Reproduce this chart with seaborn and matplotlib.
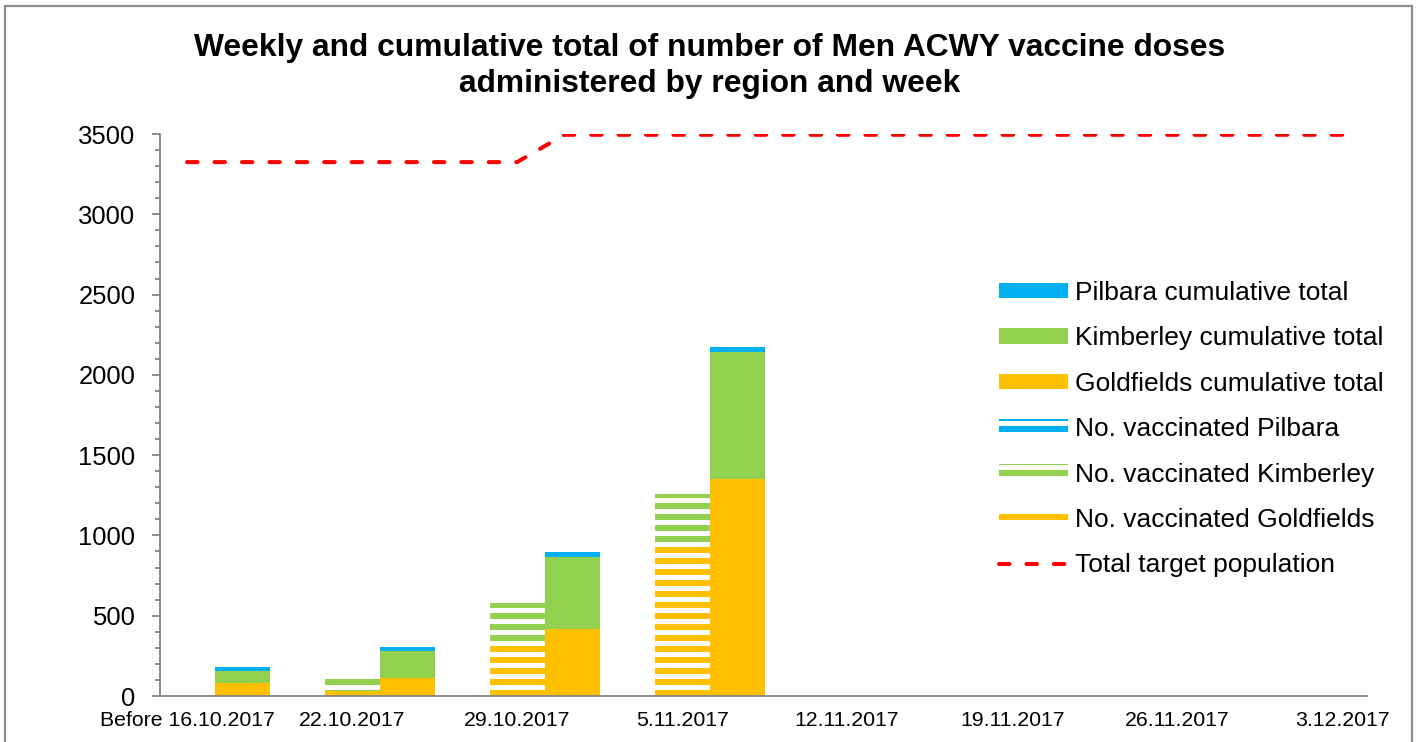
import numpy as np
import pandas as pd
import matplotlib
matplotlib.use("Agg")
import matplotlib.pyplot as plt
from matplotlib.patches import Patch, Rectangle
from matplotlib.lines import Line2D
from matplotlib.ticker import MultipleLocator
import seaborn as sns

# data
weeks = ['Before 16.10.2017', '22.10.2017', '29.10.2017', '5.11.2017',
         '12.11.2017', '19.11.2017', '26.11.2017', '3.12.2017']
week_goldfields = [0, 32, 311, 930, 0, 0, 0, 0]
week_kimberley = [0, 84, 270, 330, 0, 0, 0, 0]
week_pilbara = [0, 0, 0, 0, 0, 0, 0, 0]
cum_goldfields = [83, 114, 417, 1350, 0, 0, 0, 0]
cum_kimberley = [75, 168, 450, 793, 0, 0, 0, 0]
cum_pilbara = [25, 23, 28, 28, 0, 0, 0, 0]
target_dates = ['2017-10-15', '2017-10-29', '2017-10-31', '2017-12-03']
target_pop = [3325, 3325, 3495, 3495]

col_p = '#00B0F0'
col_k = '#92D050'
col_g = '#FFC000'

sns.set_theme(style='white')
plt.rcParams['font.family'] = ['Liberation Sans', 'DejaVu Sans']
plt.rcParams['hatch.linewidth'] = 2.7
plt.rcParams['text.color'] = 'black'

DPI = 132
fig = plt.figure(figsize=(1416 / DPI, 742 / DPI), dpi=DPI)
ax = fig.add_axes([160 / 1416, 46 / 742, (1367 - 160) / 1416, (696 - 134) / 742])

x = np.arange(len(weeks))
w = 1 / 3

# weekly (striped) bars
b = np.zeros(len(weeks))
for vals, c in [(week_goldfields, col_g), (week_kimberley, col_k), (week_pilbara, col_p)]:
    ax.bar(x, vals, width=w, bottom=b, color=c, edgecolor='white', lw=0, hatch='--')
    b = b + np.array(vals)

# cumulative bars
b = np.zeros(len(weeks))
for vals, c in [(cum_goldfields, col_g), (cum_kimberley, col_k), (cum_pilbara, col_p)]:
    ax.bar(x + w, vals, width=w, bottom=b, color=c, lw=0)
    b = b + np.array(vals)

# target population line
td = pd.to_datetime(target_dates)
tx = (td - td[0]).days / 7
sns.lineplot(x=tx, y=target_pop, ax=ax, color='#FF0000', lw=2.2,
             linestyle=(0, (2.6, 4.2)), dash_capstyle='round', legend=False)

ax.set_xlim(-0.164, 7.15)
ax.set_ylim(0, 3500)
ax.set_xticks(x)
ax.set_xticklabels(weeks)
ax.set_yticks(np.arange(0, 3501, 500))
ax.yaxis.set_minor_locator(MultipleLocator(100))
ax.set_xlabel('')
ax.set_ylabel('')

grey = '#868686'
for s in ['top', 'right']:
    ax.spines[s].set_visible(False)
for s in ['left', 'bottom']:
    ax.spines[s].set_color(grey)
    ax.spines[s].set_linewidth(1.0)
ax.tick_params(axis='y', which='major', left=True, length=4.4, width=1.0, color=grey,
               labelsize=14, pad=9, labelcolor='black')
ax.tick_params(axis='y', which='minor', left=True, length=3.0, width=1.0, color=grey)
ax.tick_params(axis='x', bottom=False, length=0, labelsize=11.6, pad=8, labelcolor='black')

fig.text(710 / 1416, 1 - 66 / 742,
         'Weekly and cumulative total of number of Men ACWY vaccine doses\nadministered by region and week',
         ha='center', va='center', fontsize=17.3, fontweight='bold', linespacing=1.28,
         color='black')

handles = [
    Patch(facecolor=col_p, lw=0, label='Pilbara cumulative total'),
    Patch(facecolor=col_k, lw=0, label='Kimberley cumulative total'),
    Patch(facecolor=col_g, lw=0, label='Goldfields cumulative total'),
    Patch(facecolor=col_p, edgecolor='white', lw=0, hatch='--', label='No. vaccinated Pilbara'),
    Patch(facecolor=col_k, edgecolor='white', lw=0, hatch='--', label='No. vaccinated Kimberley'),
    Patch(facecolor=col_g, edgecolor='white', lw=0, hatch='--', label='No. vaccinated Goldfields'),
    Line2D([], [], color='#FF0000', lw=2.2, linestyle=(0, (2.6, 4.2)), dash_capstyle='round',
           label='Total target population'),
]
leg = fig.legend(handles=handles, loc='upper left', bbox_to_anchor=(999 / 1416, 1 - 281 / 742),
                 frameon=False, borderpad=0, borderaxespad=0, handlelength=2.6, handleheight=0.53,
                 handletextpad=0.27, labelspacing=0.81, fontsize=14.4)
for t in leg.get_texts():
    t.set_color('black')

# chart border
fig.patches.append(Rectangle((5 / 1416, -0.05), (1412 - 5) / 1416, 1.05 - 6 / 742,
                             transform=fig.transFigure, fill=False, edgecolor='#8c8c8c', lw=1.2))

fig.savefig('out.png', dpi=DPI)
